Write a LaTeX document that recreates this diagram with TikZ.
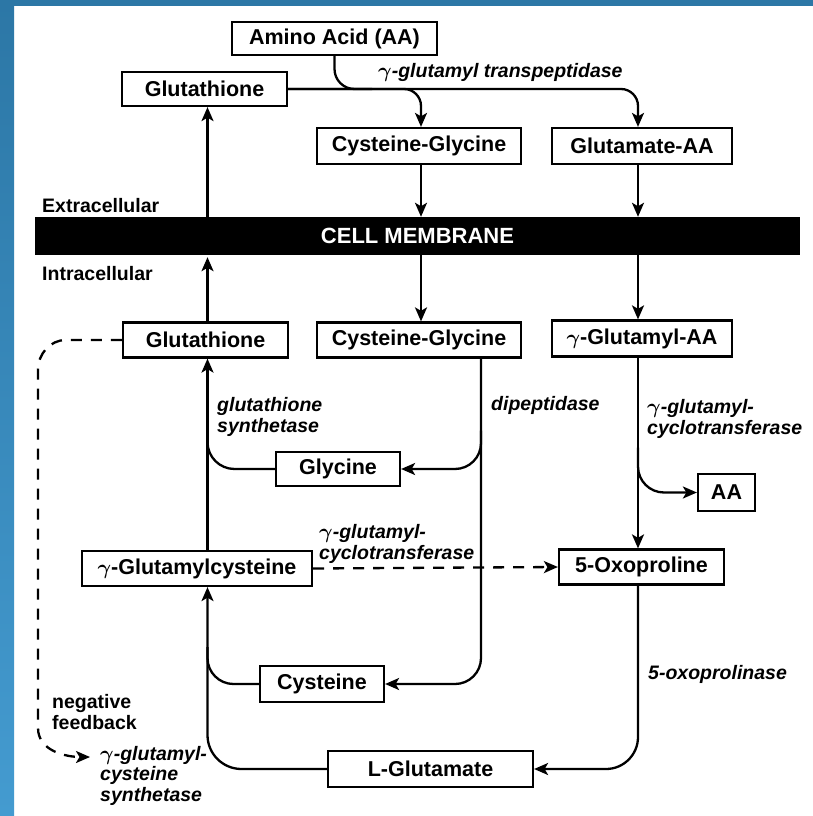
\documentclass[tikz,border=0pt]{standalone}
\usepackage{fontspec}
\setmainfont{Liberation Sans}
\usetikzlibrary{arrows.meta,calc}
\definecolor{bandtop}{RGB}{44,119,166}
\definecolor{bandbot}{RGB}{68,155,208}
\newcommand{\gam}{\ensuremath{\boldsymbol{\gamma}}}
\tikzset{
  box/.style={draw, line width=2.2pt, inner sep=0pt, font=\fontsize{21.5}{24}\selectfont\bfseries},
  lab/.style={inner sep=0pt, align=left, font=\fontsize{19.5}{20.5}\selectfont\bfseries\itshape},
  plainlab/.style={inner sep=0pt, align=left, font=\fontsize{19.5}{20.5}\selectfont\bfseries},
  conn/.style={line width=2.3pt},
  arr/.style={line width=2.3pt, -{Stealth[length=14pt,width=12pt,inset=3.5pt]}},
  dashline/.style={dash pattern=on 11pt off 9pt},
}
\usepackage{amsmath}
\begin{document}
\begin{tikzpicture}[x=1pt,y=-1pt]
\useasboundingbox (0,0) rectangle (813,816);
\fill[white] (0,0) rectangle (813,816);
\fill[bandtop] (0,0) rectangle (813,6);
\shade[top color=bandtop, bottom color=bandbot] (0,0) rectangle (14,816);

% nodes
\node[box, minimum width=205pt, minimum height=33pt] (aa) at (334.5,38.5) {Amino Acid (AA)};
\node[box, minimum width=165pt, minimum height=34pt] (gsh1) at (204.5,89) {Glutathione};
\node[box, minimum width=204pt, minimum height=36pt] (cg1) at (419,146) {Cysteine-Glycine};
\node[box, minimum width=180pt, minimum height=36pt] (gaa) at (642,146) {Glutamate-AA};
\node[fill=black, minimum width=765pt, minimum height=38pt, inner sep=0pt, text=white,
      font=\fontsize{22}{24}\selectfont\bfseries] (mem) at (417.5,236) {CELL MEMBRANE};
\node[box, minimum width=165pt, minimum height=35pt] (gsh2) at (205.5,340) {Glutathione};
\node[box, minimum width=204pt, minimum height=35pt] (cg2) at (419,340) {Cysteine-Glycine};
\node[box, minimum width=180pt, minimum height=36pt] (gga) at (642,338.5) {\gam-Glutamyl-AA};
\node[box, minimum width=124pt, minimum height=34pt] (gly) at (338,469) {Glycine};
\node[box, minimum width=57pt, minimum height=37pt] (aab) at (726.5,492.5) {AA};
\node[box, minimum width=230pt, minimum height=35pt] (ggc) at (197,568.5) {\gam-Glutamylcysteine};
\node[box, minimum width=165pt, minimum height=35pt] (oxo) at (641.5,567) {5-Oxoproline};
\node[box, minimum width=124pt, minimum height=36pt] (cys) at (322,684) {Cysteine};
\node[box, minimum width=205pt, minimum height=36pt] (lglu) at (430.5,769) {L-Glutamate};

% labels
\node[lab, anchor=west] (ggt) at (378,72) {\gam-glutamyl transpeptidase};
\node[plainlab, anchor=west] (extra) at (42,206) {Extracellular};
\node[plainlab, anchor=west] (intra) at (42,274) {Intracellular};
\node[lab, anchor=west] (gss) at (217,417) {glutathione\\synthetase};
\node[lab, anchor=west] (dip) at (491,405) {dipeptidase};
\node[lab, anchor=west] (gct1) at (647,419) {\gam-glutamyl-\\cyclotransferase};
\node[lab, anchor=west] (gct2) at (319,544) {\gam-glutamyl-\\cyclotransferase};
\node[lab, anchor=west] (oxase) at (648,674) {5-oxoprolinase};
\node[plainlab, anchor=west] (negfb) at (52,712) {negative\\feedback};
\node[lab, anchor=north west] (gcs) at (100,746) {\gam-glutamyl-\\cysteine\\synthetase};

% coordinates
\coordinate (aajoin) at (372,89);
\coordinate (cgcol) at ($(cg1.south)+(2,0)$);
\coordinate (rcol) at ($(gaa.south)+(-4,0)$);
\coordinate (dipstart) at ($(cg2.south)+(62,0)$);
\coordinate (dipbranch) at ($(cg2.south)+(62,72)$);
\coordinate (gctbranch) at ($(rcol |- gga.south)+(0,90)$);
\coordinate (lcol) at ($(gsh2.south)+(2,0)$);
\coordinate (glyjoin) at ($(lcol)+(0,70)$);
\coordinate (cysjoin) at ($(lcol |- ggc.south)+(0,60)$);
\coordinate (fbcorner) at (38,340);
\coordinate (fbend) at (90,757);

% top: transpeptidase
\draw[conn, rounded corners=20pt] (aa.south) |- (aajoin);
\draw[arr, rounded corners=17pt] (gsh1.east) -| (cgcol |- cg1.north);
\draw[arr, rounded corners=17pt] (gsh1.east) -| (rcol |- gaa.north);

% across the membrane
\draw[arr] (lcol |- mem.north) -- (lcol |- gsh1.south);
\draw[arr] (lcol |- gsh2.north) -- ($(lcol |- mem.south)+(0,2)$);
\draw[arr] (cgcol) -- (cgcol |- mem.north);
\draw[arr] (cgcol |- mem.south) -- (cgcol |- cg2.north);
\draw[arr] (rcol) -- (rcol |- mem.north);
\draw[arr] (rcol |- mem.south) -- (rcol |- gga.north);

% glutathione synthesis
\draw[arr] (lcol |- ggc.north) -- (lcol |- gsh2.south);
\draw[conn, rounded corners=27pt] (gly.west) -| (glyjoin);

% dipeptidase
\draw[arr, rounded corners=26pt] (dipstart) |- (cys.east);
\draw[arr, rounded corners=26pt] (dipbranch) |- (gly.east);

% cyclotransferase
\draw[arr] (rcol |- gga.south) -- (rcol |- oxo.north);
\draw[arr, rounded corners=26pt] (gctbranch) |- (aab.west);
\draw[arr, dashline] (ggc.east) -- (oxo.west);

% 5-oxoprolinase
\draw[arr, rounded corners=32pt] (rcol |- oxo.south) |- (lglu.east);

% to gamma-glutamylcysteine
\draw[arr, rounded corners=34pt] (lglu.west) -| (lcol |- ggc.south);
\draw[conn, rounded corners=26pt] (cys.west) -| (cysjoin);

% negative feedback
\draw[arr, dashline] (gsh2.west) -- (66,340) to[out=180,in=90] (38,370) -- (38,728) to[out=-90,in=180] (fbend);
\end{tikzpicture}
\end{document}
